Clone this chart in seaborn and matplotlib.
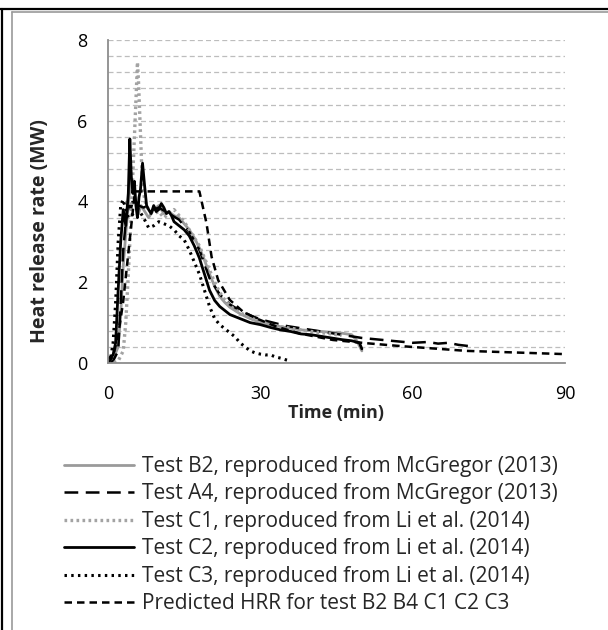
import numpy as np
import pandas as pd
import seaborn as sns
import matplotlib
matplotlib.use("Agg")
import matplotlib.pyplot as plt
from matplotlib.lines import Line2D
from matplotlib.ticker import MultipleLocator

# ---------------- data ----------------
b2_t = [0, 1, 2, 2.5, 3, 3.5, 4, 4.5, 5, 5.5, 6, 6.5, 7, 8, 9, 10, 11, 12, 13, 14, 15, 16, 17, 18, 19,
        20, 21, 22, 23, 24, 25, 26, 28, 30, 32, 34, 36, 38, 40, 42, 44, 46, 48, 49, 50]
b2_v = [0, 0.1, 0.4, 1.2, 2.4, 3.2, 3.9, 4.6, 4.3, 4.0, 3.7, 3.9, 3.8, 3.6, 3.8, 3.9, 3.7, 3.75, 3.65, 3.6,
        3.45, 3.3, 3.1, 2.85, 2.55, 2.2, 1.9, 1.65, 1.5, 1.38, 1.3, 1.22, 1.1, 1.0, 0.95, 0.9, 0.86, 0.82,
        0.8, 0.78, 0.76, 0.74, 0.7, 0.55, 0.3]

a4_t = [0, 1, 2, 2.5, 3, 3.5, 4, 4.5, 5, 6, 7, 8, 9, 10, 12, 14, 16, 18, 20, 22, 24, 26, 28, 30, 35,
        40, 45, 50, 55, 60, 63, 65, 67, 69, 71]
a4_v = [0, 0.05, 0.3, 1.5, 2.8, 3.5, 4.0, 3.8, 4.1, 3.9, 3.85, 3.9, 3.8, 3.85, 3.7, 3.55, 3.25, 2.8, 2.1,
        1.7, 1.45, 1.3, 1.18, 1.08, 0.92, 0.82, 0.72, 0.62, 0.56, 0.5, 0.52, 0.48, 0.5, 0.45, 0.42]

c1_t = [0, 1, 2, 3, 3.5, 4, 4.5, 5, 5.5, 5.8, 6.0, 6.3, 6.6, 7, 7.5, 8, 9, 10, 11, 12, 13, 14, 15, 16,
        17, 18, 19, 20, 21, 22, 23, 24, 25, 26, 28, 30, 32, 34, 36, 38, 40, 42, 44, 46]
c1_v = [0, 0, 0.05, 0.3, 1.0, 2.2, 3.5, 5.0, 6.5, 7.45, 7.0, 6.0, 5.0, 4.2, 3.9, 3.8, 3.7, 3.75, 3.6,
        3.7, 3.8, 3.65, 3.5, 3.3, 3.1, 2.9, 2.6, 2.3, 2.0, 1.75, 1.55, 1.42, 1.32, 1.25, 1.12, 1.03,
        0.95, 0.9, 0.86, 0.82, 0.78, 0.75, 0.72, 0.68]

c2_t = [0, 1, 1.5, 2, 2.5, 3, 3.5, 4, 4.3, 4.6, 4.9, 5.2, 5.5, 5.8, 6.1, 6.4, 6.8, 7.2, 7.6, 8, 8.5, 9,
        9.5, 10, 10.5, 11, 11.5, 12, 12.5, 13, 13.5, 14, 15, 16, 17, 18, 19, 20, 21, 22, 23, 24, 26,
        28, 30, 32, 34, 36, 38, 40, 42, 44, 46, 48, 49.5, 50]
c2_v = [0.1, 0.2, 0.5, 1.8, 3.0, 3.8, 3.4, 4.2, 5.55, 4.6, 4.2, 4.5, 3.9, 3.6, 4.1, 4.3, 4.95, 4.4, 3.9,
        3.8, 3.7, 3.9, 3.75, 3.8, 3.95, 3.85, 3.7, 3.75, 3.65, 3.5, 3.45, 3.4, 3.3, 3.15, 2.9, 2.6,
        2.2, 1.8, 1.55, 1.4, 1.3, 1.2, 1.1, 1.0, 0.95, 0.88, 0.82, 0.78, 0.72, 0.7, 0.66, 0.62, 0.58,
        0.55, 0.5, 0.35]

c3_t = [0, 0.5, 1, 1.5, 2, 2.5, 3, 3.5, 4, 5, 6, 7, 8, 9, 10, 11, 12, 13, 14, 15, 16, 17, 18, 19, 20,
        21, 22, 23, 24, 25, 26, 27, 28, 29, 30, 31, 32, 33, 34, 35, 36]
c3_v = [0.0, 0.1, 0.5, 1.5, 3.0, 3.9, 4.05, 3.8, 3.6, 3.7, 3.8, 3.6, 3.35, 3.4, 3.5, 3.45, 3.4, 3.3,
        3.15, 3.05, 2.8, 2.5, 2.2, 1.8, 1.4, 1.1, 0.95, 0.85, 0.75, 0.65, 0.5, 0.4, 0.3, 0.25, 0.22,
        0.2, 0.2, 0.15, 0.12, 0.08, 0.05]

pred_t = [0, 1, 2, 3, 4, 5.3, 18, 19.4, 20.4, 21.7, 24, 26.6, 29.3, 33.2, 37.8, 44.3, 50.9, 57.5, 70.6, 90]
pred_v = [0, 0.17, 0.68, 1.53, 2.72, 4.25, 4.25, 3.46, 2.63, 2.05, 1.56, 1.27, 1.10, 0.90, 0.73, 0.57,
          0.49, 0.42, 0.30, 0.22]

labels = ["Test B2, reproduced from McGregor (2013)",
          "Test A4, reproduced from McGregor (2013)",
          "Test C1, reproduced from Li et al. (2014)",
          "Test C2, reproduced from Li et al. (2014)",
          "Test C3, reproduced from Li et al. (2014)",
          "Predicted HRR for test B2 B4 C1 C2 C3"]
x_ticks = [0, 30, 60, 90]
y_ticks = [0, 2, 4, 6, 8]

# ---------------- figure ----------------
sns.set_style("white")
plt.rcParams["font.family"] = ["Open Sans", "DejaVu Sans"]

W, H = 608, 630
fig = plt.figure(figsize=(W / 100, H / 100), dpi=100)
ax = fig.add_axes([108 / W, 1 - 363 / H, (565 - 108) / W, (363 - 40) / H])

series = [
    (b2_t, b2_v, dict(color="#9a9a9a", lw=2.0, linestyle="-")),
    (a4_t, a4_v, dict(color="black", lw=1.8, linestyle=(0, (5.5, 3)))),
    (c1_t, c1_v, dict(color="#a3a3a3", lw=2.4, linestyle=(0, (0.8, 1.0)))),
    (c2_t, c2_v, dict(color="black", lw=2.0, linestyle="-")),
    (c3_t, c3_v, dict(color="black", lw=2.2, linestyle=(0, (0.8, 1.4)))),
    (pred_t, pred_v, dict(color="black", lw=1.8, linestyle=(0, (3, 2)))),
]
for (t, v, st), lab in zip(series, labels):
    df = pd.DataFrame({"t": t, "v": v})
    sns.lineplot(data=df, x="t", y="v", ax=ax, sort=False, estimator=None,
                 label=lab, legend=False, **st)

ax.set_xlim(0, 90)
ax.set_ylim(0, 8)
ax.set_xticks(x_ticks)
ax.set_yticks(y_ticks)
ax.yaxis.set_minor_locator(MultipleLocator(0.4))
ax.grid(False)
ax.grid(True, axis="y", which="both", color="#bdbdbd", linestyle=(0, (4, 2.5)), lw=0.9)
ax.set_axisbelow(True)
for s in ["top", "right"]:
    ax.spines[s].set_visible(False)
for s in ["left", "bottom"]:
    ax.spines[s].set_color("#8c8c8c")
    ax.spines[s].set_linewidth(1.3)
ax.tick_params(axis="both", which="major", direction="out", width=1.2,
               color="#8c8c8c", labelsize=13, labelcolor="black")
ax.tick_params(axis="y", which="major", length=3.6, pad=11)
ax.tick_params(axis="x", which="major", length=5.8, pad=10)
ax.tick_params(axis="y", which="minor", length=0)

ax.set_xlabel("Time (min)", fontsize=13, fontweight="bold", va="center")
ax.xaxis.set_label_coords(0.5, (363 - 413) / 323)
ax.set_ylabel("Heat release rate (MW)", fontsize=14, fontweight="bold", va="center")
ax.yaxis.set_label_coords((40 - 108) / 457, (363 - 231) / 323)

handles, labs = ax.get_legend_handles_labels()
fig.legend(handles, labs, loc="upper left", bbox_to_anchor=(64 / W, 1 - 456 / H),
           frameon=False, fontsize=15, handlelength=3.37, handletextpad=0.36,
           labelspacing=0.31, borderpad=0, borderaxespad=0)

# figure borders
fig.add_artist(Line2D([0, 1], [1 - 9 / H, 1 - 9 / H], color="black", lw=1.6, transform=fig.transFigure))
fig.add_artist(Line2D([2 / W, 2 / W], [0, 1 - 9 / H], color="black", lw=1.6, transform=fig.transFigure))
fig.add_artist(Line2D([12 / W, 1], [1 - 11.5 / H, 1 - 11.5 / H], color="#9a9a9a", lw=1.2, transform=fig.transFigure))
fig.add_artist(Line2D([12 / W, 12 / W], [0, 1 - 11.5 / H], color="#9a9a9a", lw=1.2, transform=fig.transFigure))

fig.savefig("out.png", dpi=100)
